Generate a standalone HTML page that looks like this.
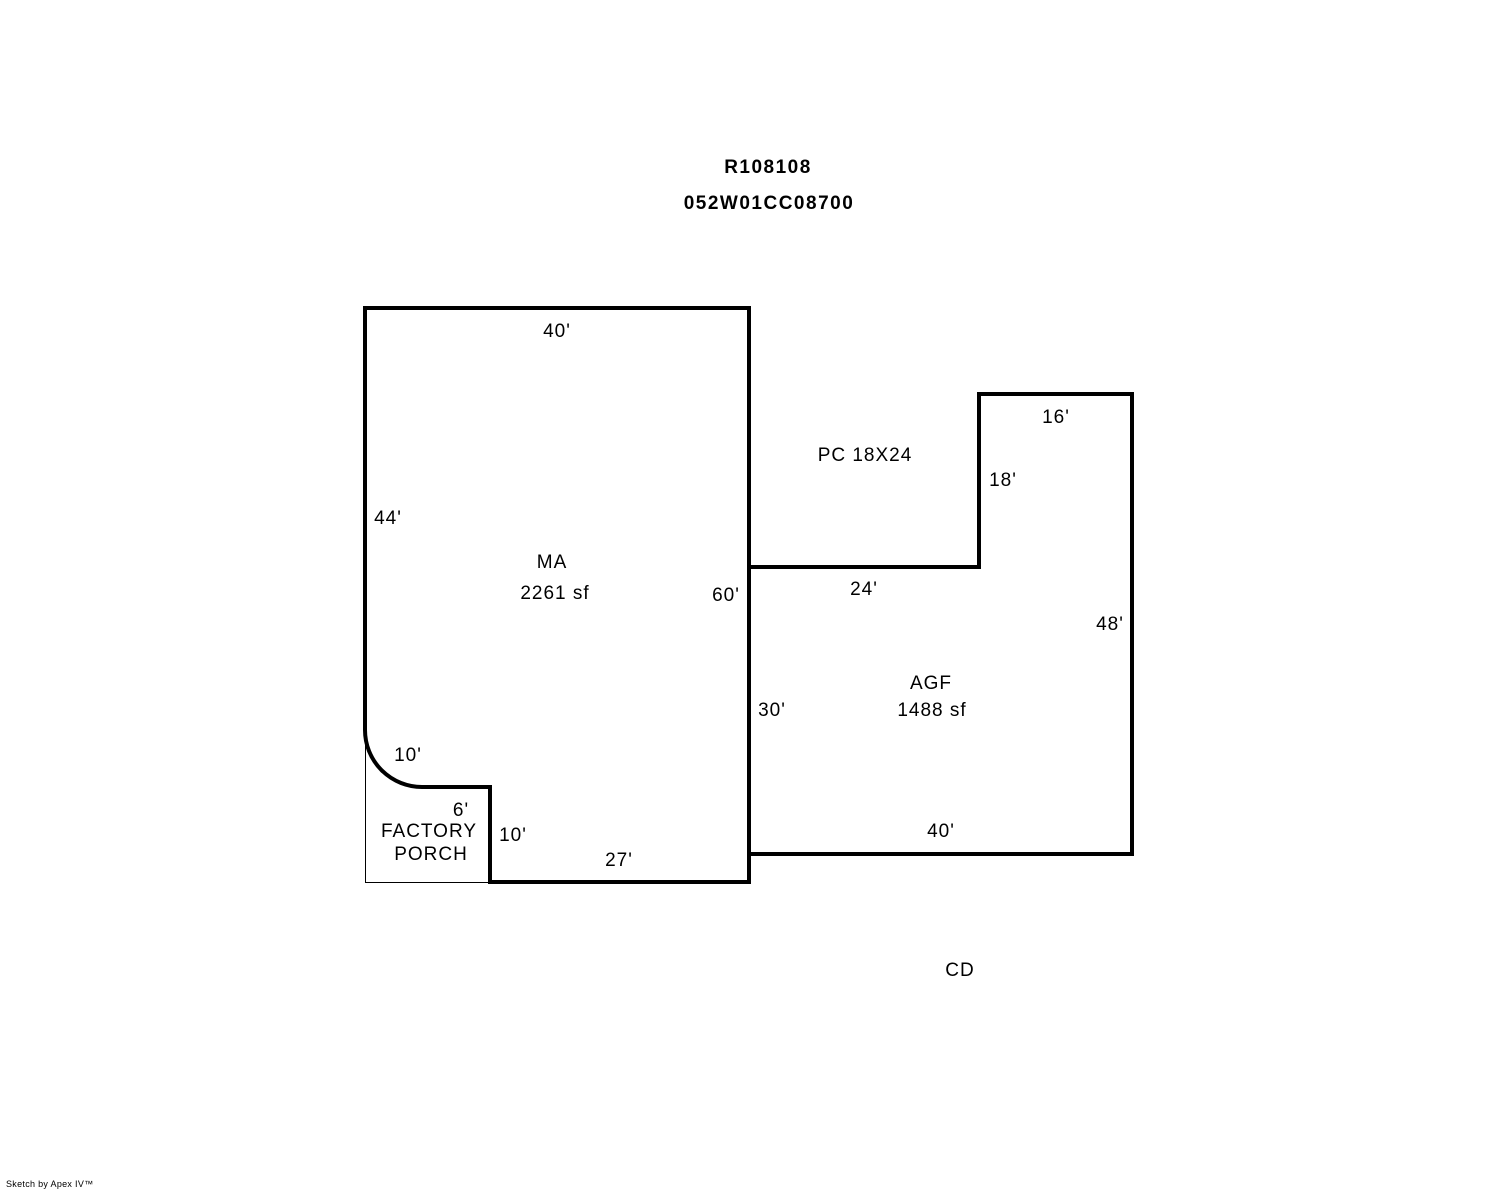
<!DOCTYPE html>
<html><head><meta charset="utf-8"><style>
html,body{margin:0;padding:0;background:#fff;}
svg{display:block;}
text{font-family:"Liberation Sans",Arial,sans-serif;font-size:19px;letter-spacing:1px;fill:#000;}
</style></head><body>
<svg width="1488" height="1190" viewBox="0 0 1488 1190" xmlns="http://www.w3.org/2000/svg">
<text x="768" y="173" text-anchor="middle" font-weight="bold" style="letter-spacing:1.5px">R108108</text>
<text x="769" y="209" text-anchor="middle" font-weight="bold" style="letter-spacing:1.5px">052W01CC08700</text>
<path d="M365.5 735 V882.5 H490" fill="none" stroke="#000" stroke-width="1"/>
<path d="M365 308 H749 V882 H490 V787 H422 A57 57 0 0 1 365 730 Z" fill="none" stroke="#000" stroke-width="4" stroke-linejoin="miter"/>
<path d="M749 567 H979 V394 H1132 V854 H749" fill="none" stroke="#000" stroke-width="4"/>
<text x="557" y="337" text-anchor="middle">40'</text>
<text x="388" y="524" text-anchor="middle">44'</text>
<text x="552" y="568" text-anchor="middle">MA</text>
<text x="555" y="599" text-anchor="middle">2261 sf</text>
<text x="726" y="601" text-anchor="middle">60'</text>
<text x="865" y="461" text-anchor="middle">PC 18X24</text>
<text x="1056" y="423" text-anchor="middle">16'</text>
<text x="1003" y="486" text-anchor="middle">18'</text>
<text x="864" y="595" text-anchor="middle">24'</text>
<text x="1110" y="630" text-anchor="middle">48'</text>
<text x="931" y="689" text-anchor="middle">AGF</text>
<text x="932" y="716" text-anchor="middle">1488 sf</text>
<text x="772" y="716" text-anchor="middle">30'</text>
<text x="408" y="761" text-anchor="middle">10'</text>
<text x="461" y="816" text-anchor="middle">6'</text>
<text x="429" y="837" text-anchor="middle">FACTORY</text>
<text x="431" y="860" text-anchor="middle">PORCH</text>
<text x="513" y="841" text-anchor="middle">10'</text>
<text x="619" y="866" text-anchor="middle">27'</text>
<text x="941" y="837" text-anchor="middle">40'</text>
<text x="960" y="976" text-anchor="middle">CD</text>
<text x="6" y="1187" style="font-size:9px;letter-spacing:0.3px">Sketch by Apex IV™</text>
</svg>
</body></html>
